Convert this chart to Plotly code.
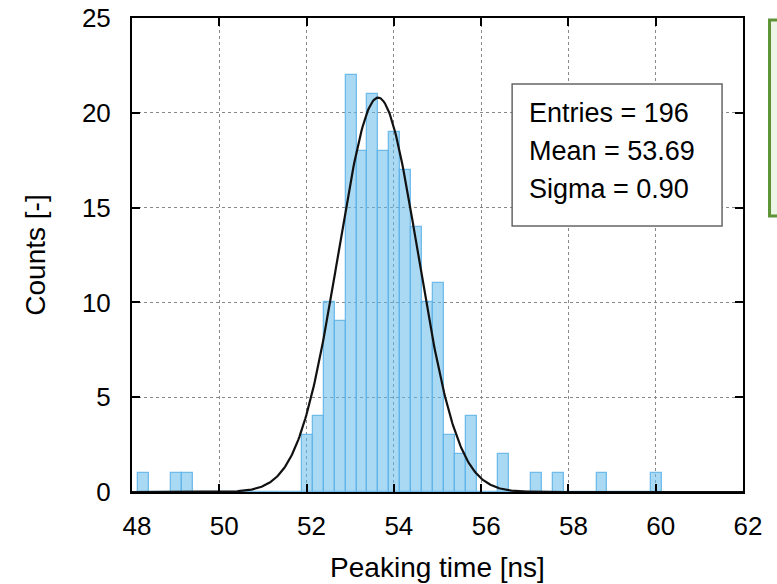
import plotly.graph_objects as go
import numpy as np

# ---- data ----
bin_width = 0.25
first_bin_left = 48.145
counts = [1, 0, 0, 1, 1, 0, 0, 0, 0, 0, 0, 0, 0, 0, 0,
          3, 4, 10, 9, 22, 18, 21, 18, 19, 17, 14, 10, 11, 3, 2, 4,
          0, 0, 2, 0, 0, 1, 0, 1, 0, 0, 0, 1, 0, 0, 0, 0, 1]
bin_centers = [first_bin_left + (i + 0.5) * bin_width for i in range(len(counts))]

# Gaussian fit parameters (drawn curve)
fit_amp = 20.8
fit_mean = 53.64
fit_sigma = 0.91

stats_lines = ["Entries = 196", "Mean = 53.69", "Sigma = 0.90"]
x_ticks = [48, 50, 52, 54, 56, 58, 60, 62]
y_ticks = [0, 5, 10, 15, 20, 25]

FONT = "Liberation Sans, Arial, Helvetica, sans-serif"

fx = np.linspace(48, 62, 600)
fy = fit_amp * np.exp(-0.5 * ((fx - fit_mean) / fit_sigma) ** 2)

fig = go.Figure()
fig.add_trace(go.Bar(
    x=bin_centers, y=counts, width=bin_width,
    marker=dict(color="rgba(100,185,235,0.55)",
                line=dict(color="rgba(95,180,232,0.85)", width=1.3)),
    showlegend=False, hoverinfo="skip"))
fig.add_trace(go.Scatter(
    x=fx, y=fy, mode="lines", line=dict(color="#111111", width=2.2),
    showlegend=False, hoverinfo="skip"))

# stats box
fig.add_shape(type="rect", xref="x", yref="y", x0=56.71, x1=61.52, y0=14.03, y1=21.52,
              line=dict(color="#666666", width=1.5), fillcolor="white", layer="above")
for i, t in enumerate(stats_lines):
    fig.add_annotation(x=57.05, y=20 - 2 * i, xref="x", yref="y", text=t,
                       showarrow=False, xanchor="left", yanchor="middle",
                       font=dict(family=FONT, size=27, color="black"))

# green box partly outside on the right
fig.add_shape(type="rect", xref="paper", yref="paper", x0=1.0434, x1=1.2, y0=0.5823, y1=0.9958,
              line=dict(color="#5e9436", width=3), fillcolor="#eef6e7", layer="above")

axis_common = dict(showline=True, linecolor="black", linewidth=2, mirror="ticks",
                   ticks="inside", ticklen=8, tickwidth=1.5, tickcolor="black",
                   showgrid=True, gridcolor="#888888", gridwidth=1, griddash="dot",
                   zeroline=False, automargin=False,
                   tickfont=dict(family=FONT, size=26, color="black"))

fig.update_layout(
    width=777, height=584,
    margin=dict(l=132, r=34, t=18, b=92, autoexpand=False),
    paper_bgcolor="white", plot_bgcolor="white",
    bargap=0,
    xaxis=dict(range=[48, 62], tickvals=x_ticks, ticklabelstandoff=10, ticklabelshift=5,
               title=dict(text="Peaking time [ns]", font=dict(family=FONT, size=28, color="black"),
                          standoff=17),
               **axis_common),
    yaxis=dict(range=[0, 25], tickvals=y_ticks, ticklabelstandoff=14,
               title=dict(text="Counts [-]", font=dict(family=FONT, size=28, color="black"),
                          standoff=28),
               **axis_common),
)

fig.write_html("out.html")
